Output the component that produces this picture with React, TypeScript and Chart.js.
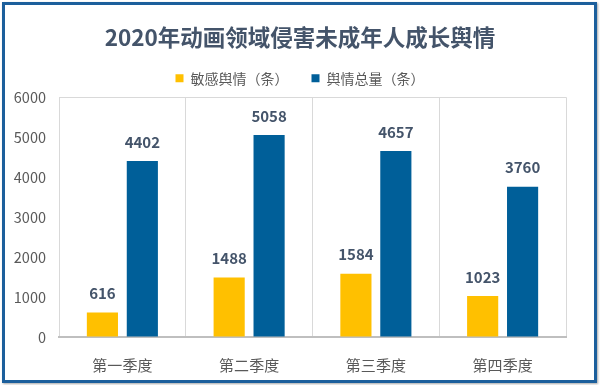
import React, { useEffect, useRef } from "react";
import { Chart, registerables } from "chart.js";

Chart.register(...registerables);

const titleText = "2020年动画领域侵害未成年人成长舆情";
const categories = ["第一季度", "第二季度", "第三季度", "第四季度"];
const seriesNames = ["敏感舆情（条）", "舆情总量（条）"];
const sensitiveCounts = [616, 1488, 1584, 1023];
const totalCounts = [4402, 5058, 4657, 3760];
const yMin = 0;
const yMax = 6000;
const yStep = 1000;

const FONT = '"Noto Sans CJK SC", "Noto Sans", sans-serif';
const YELLOW = "#ffc000";
const BLUE = "#005f99";
const TEXT = "#595959";
const TITLE = "#44546a";

const valueLabels = {
  id: "valueLabels",
  afterDatasetsDraw(chart: any) {
    const ctx = chart.ctx;
    ctx.save();
    ctx.font = `bold 15px ${FONT}`;
    ctx.fillStyle = TITLE;
    ctx.textAlign = "center";
    ctx.textBaseline = "middle";
    chart.data.datasets.forEach((ds: any, i: number) => {
      const meta = chart.getDatasetMeta(i);
      meta.data.forEach((el: any, j: number) => {
        ctx.fillText(String(ds.data[j]), el.x, el.y - 19);
      });
    });
    ctx.restore();
  },
};

export default function App() {
  const ref = useRef<HTMLCanvasElement | null>(null);

  useEffect(() => {
    document.body.style.margin = "0";
    const chart = new Chart(ref.current as HTMLCanvasElement, {
      type: "bar",
      data: {
        labels: categories,
        datasets: [
          {
            label: seriesNames[0],
            data: sensitiveCounts,
            backgroundColor: YELLOW,
            xAxisID: "x",
            yAxisID: "y",
            categoryPercentage: 0.63,
            barPercentage: 0.78,
          },
          {
            label: seriesNames[1],
            data: totalCounts,
            backgroundColor: BLUE,
            xAxisID: "x",
            yAxisID: "y",
            categoryPercentage: 0.63,
            barPercentage: 0.78,
          },
        ],
      },
      options: {
        responsive: false,
        animation: false,
        layout: { padding: 0 },
        plugins: {
          title: {
            display: true,
            text: titleText,
            color: TITLE,
            font: { family: FONT, size: 22.5, weight: "bold", lineHeight: 1.0 },
            padding: { top: 25.75, bottom: 0 },
          },
          legend: {
            display: true,
            position: "top",
            labels: {
              boxWidth: 8,
              boxHeight: 8,
              padding: 23,
              color: TEXT,
              font: { family: FONT, size: 14 },
            },
          },
          tooltip: { enabled: false },
        },
        scales: {
          x: {
            type: "category",
            position: "bottom",
            grid: { display: true, color: "#d9d9d9", lineWidth: 1, drawTicks: false, offset: true },
            border: { display: true, color: "#bfbfbf", width: 2 },
            ticks: { color: TEXT, font: { family: FONT, size: 15 }, padding: 19 },
            afterFit: (s: any) => {
              s.height = 48;
            },
          },
          xTop: {
            type: "linear",
            position: "top",
            min: 0,
            max: 1,
            display: true,
            grid: { display: false, drawTicks: false },
            border: { display: false },
            ticks: { display: false },
            afterFit: (s: any) => {
              s.height = 2;
            },
          },
          y: {
            type: "linear",
            position: "left",
            min: yMin,
            max: yMax,
            ticks: {
              stepSize: yStep,
              color: TEXT,
              font: { family: FONT, size: 14.5 },
              padding: 13,
              callback: (v: any) => String(v),
            },
            grid: {
              display: true,
              drawTicks: false,
              color: (c: any) => (c.tick && c.tick.value === yMax ? "#d9d9d9" : "rgba(0,0,0,0)"),
            },
            border: { display: false },
            afterFit: (s: any) => {
              s.width = 59;
            },
          },
          yRight: {
            type: "linear",
            position: "right",
            min: 0,
            max: 1,
            display: true,
            grid: { display: false, drawTicks: false },
            border: { display: false },
            ticks: { display: false },
            afterFit: (s: any) => {
              s.width = 34;
            },
          },
        },
      } as any,
      plugins: [valueLabels],
    });
    return () => chart.destroy();
  }, []);

  return (
    <div style={{ position: "absolute", left: 0, top: 0, width: 600, height: 385, background: "#ffffff" }}>
      <canvas ref={ref} width={600} height={385} style={{ position: "absolute", left: 0, top: 0 }} />
      <div
        style={{
          position: "absolute",
          left: 2,
          top: 2,
          width: 595,
          height: 381,
          boxSizing: "border-box",
          border: "3px solid #1c5f9c",
          boxShadow: "1px 1px 2px rgba(0,0,0,0.35)",
          pointerEvents: "none",
        }}
      />
    </div>
  );
}
